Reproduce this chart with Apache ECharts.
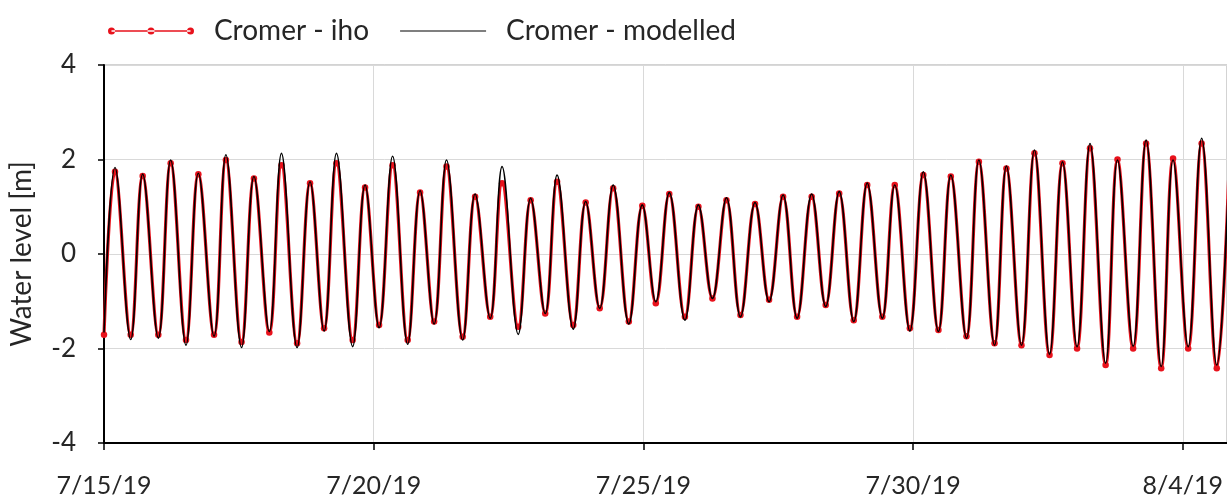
<!DOCTYPE html>
<html>
<head>
<meta charset="utf-8">
<script src="https://cdn.jsdelivr.net/npm/echarts@6/dist/echarts.min.js"></script>
<style>
  html, body { margin: 0; padding: 0; background: #fff; }
  #chart { width: 1227px; height: 500px; }
</style>
</head>
<body>
<div id="chart"></div>
<script>
// Cromer tide, 15 July - 5 August 2019: successive high and low waters.
// Times are days after 7/15/19 00:00, levels in metres.
const tideDays = [
  0.00, 0.204, 0.495, 0.717, 1.007, 1.236, 1.52, 1.749, 2.04, 2.26, 2.55,
  2.78, 3.065, 3.29, 3.58, 3.82, 4.08, 4.31, 4.61, 4.84, 5.10,
  5.35, 5.63, 5.86, 6.12, 6.35, 6.65, 6.88, 7.16, 7.38, 7.68,
  7.91, 8.18, 8.40, 8.70, 8.93, 9.19, 9.44, 9.73, 9.98, 10.23,
  10.48, 10.77, 11.02, 11.28, 11.54, 11.80, 12.07, 12.33, 12.59, 12.85,
  13.12, 13.38, 13.63, 13.90, 14.15, 14.43, 14.66, 14.94, 15.19, 15.47,
  15.70, 15.99, 16.22, 16.51, 16.73, 17.01, 17.25, 17.53, 17.77, 18.04,
  18.28, 18.57, 18.79, 19.08, 19.32, 19.60, 19.82, 20.10, 20.35, 20.63,
  20.86
];
const modelledLevel = [
  -1.66, 1.83, -1.81, 1.69, -1.78, 1.99, -1.93, 1.71, -1.74, 2.10, -1.98,
  1.64, -1.64, 2.13, -1.98, 1.53, -1.63, 2.13, -1.96, 1.46, -1.56,
  2.07, -1.91, 1.34, -1.48, 1.99, -1.82, 1.27, -1.36, 1.85, -1.70,
  1.18, -1.26, 1.67, -1.59, 1.11, -1.15, 1.46, -1.48, 1.04, -1.01,
  1.30, -1.40, 1.04, -0.94, 1.19, -1.33, 1.09, -1.01, 1.25, -1.36,
  1.27, -1.11, 1.32, -1.43, 1.50, -1.36, 1.46, -1.63, 1.74, -1.64,
  1.67, -1.78, 1.99, -1.93, 1.86, -1.93, 2.20, -2.12, 1.95, -1.96,
  2.34, -2.31, 1.99, -1.95, 2.41, -2.38, 1.99, -1.96, 2.45, -2.35,
  1.95
];
const ihoLevel = [
  -1.71, 1.74, -1.71, 1.65, -1.71, 1.92, -1.82, 1.69, -1.71, 1.99, -1.86,
  1.60, -1.66, 1.88, -1.89, 1.50, -1.57, 1.92, -1.82, 1.41, -1.50,
  1.88, -1.82, 1.30, -1.43, 1.85, -1.75, 1.21, -1.33, 1.50, -1.54,
  1.14, -1.26, 1.53, -1.50, 1.09, -1.15, 1.39, -1.43, 1.02, -1.04,
  1.27, -1.33, 1.00, -0.94, 1.14, -1.29, 1.06, -0.97, 1.21, -1.33,
  1.21, -1.08, 1.28, -1.40, 1.46, -1.33, 1.46, -1.57, 1.67, -1.61,
  1.64, -1.74, 1.95, -1.89, 1.81, -1.93, 2.13, -2.14, 1.92, -2.00,
  2.24, -2.35, 2.00, -2.00, 2.34, -2.42, 2.02, -2.00, 2.34, -2.42,
  1.92
];
const yTicks = [-4, -2, 0, 2, 4];
const seriesNames = ['Cromer - iho', 'Cromer - modelled'];

const START = Date.UTC(2019, 6, 15);
const DAY = 86400000;
function dateLabel(d) {
  const dt = new Date(START + Math.round(d * DAY));
  return (dt.getUTCMonth() + 1) + '/' + dt.getUTCDate() + '/' + String(dt.getUTCFullYear()).slice(2);
}

const FONT = 'Lato';
const TEXT = '#262626';
const RED = '#e8121c';

// legend markers, both drawn in a 172 x 14 box:
// a red line with three dots, and a plain thin line (corner specks keep the box size)
const ihoIcon = 'path://M7,5.5h158v3h-158z' +
  'M0,7a7,7 0 1,0 14,0a7,7 0 1,0 -14,0z' +
  'M79,7a7,7 0 1,0 14,0a7,7 0 1,0 -14,0z' +
  'M158,7a7,7 0 1,0 14,0a7,7 0 1,0 -14,0z';
const modelledIcon = 'path://M0,5.8h172v2.4h-172z' +
  'M0,0h0.01v0.01h-0.01z' +
  'M171.99,13.99h0.01v0.01h-0.01z';

const chart = echarts.init(document.getElementById('chart'), null, { renderer: 'canvas' });
chart.setOption({
  backgroundColor: '#fff',
  animation: false,
  textStyle: { fontFamily: FONT, color: TEXT },
  legend: {
    left: 103,
    top: 12,
    itemWidth: 86,
    itemHeight: 7,
    itemGap: 31,
    data: [
      { name: seriesNames[0], icon: ihoIcon, itemStyle: { color: RED } },
      { name: seriesNames[1], icon: modelledIcon, itemStyle: { color: '#000' } }
    ],
    textStyle: { fontFamily: FONT, fontSize: 28, color: TEXT, padding: [0, 0, 0, 15] }
  },
  grid: {
    left: 103, right: 0, top: 65, bottom: 57,
    show: true, borderColor: '#a6a6a6', borderWidth: 1, backgroundColor: 'transparent'
  },
  xAxis: {
    type: 'value',
    min: 0,
    max: 20.82,
    interval: 5,
    axisLine: { show: true, onZero: false, lineStyle: { color: '#000', width: 2 } },
    axisTick: { show: true, length: 7, lineStyle: { color: '#000', width: 1.5 } },
    axisLabel: {
      margin: 30, fontFamily: FONT, fontSize: 25, color: TEXT,
      showMaxLabel: false,
      formatter: v => dateLabel(v)
    },
    splitLine: { show: true, lineStyle: { color: '#d9d9d9', width: 1 } }
  },
  yAxis: {
    type: 'value',
    min: yTicks[0],
    max: yTicks[yTicks.length - 1],
    interval: 2,
    name: 'Water level [m]',
    nameLocation: 'middle',
    nameGap: 68,
    nameTextStyle: { fontFamily: FONT, fontSize: 28, color: TEXT },
    axisLine: { show: true, lineStyle: { color: '#000', width: 2 } },
    axisTick: { show: true, length: 6, lineStyle: { color: '#000', width: 1.5 } },
    axisLabel: { margin: 28, fontFamily: FONT, fontSize: 26, color: TEXT },
    splitLine: { show: true, lineStyle: { color: '#d9d9d9', width: 1 } }
  },
  series: [
    {
      name: seriesNames[0],
      type: 'line',
      data: tideDays.map((d, i) => [d, ihoLevel[i]]),
      smooth: 0.4,
      symbol: 'circle',
      symbolSize: 6.5,
      showAllSymbol: true,
      itemStyle: { color: RED },
      lineStyle: { color: RED, width: 3.2 },
      clip: true,
      z: 2
    },
    {
      name: seriesNames[1],
      type: 'line',
      data: tideDays.map((d, i) => [d, modelledLevel[i]]),
      smooth: 0.4,
      symbol: 'none',
      itemStyle: { color: '#000' },
      lineStyle: { color: '#000', width: 1.6 },
      clip: true,
      z: 3
    }
  ]
});
</script>
</body>
</html>
